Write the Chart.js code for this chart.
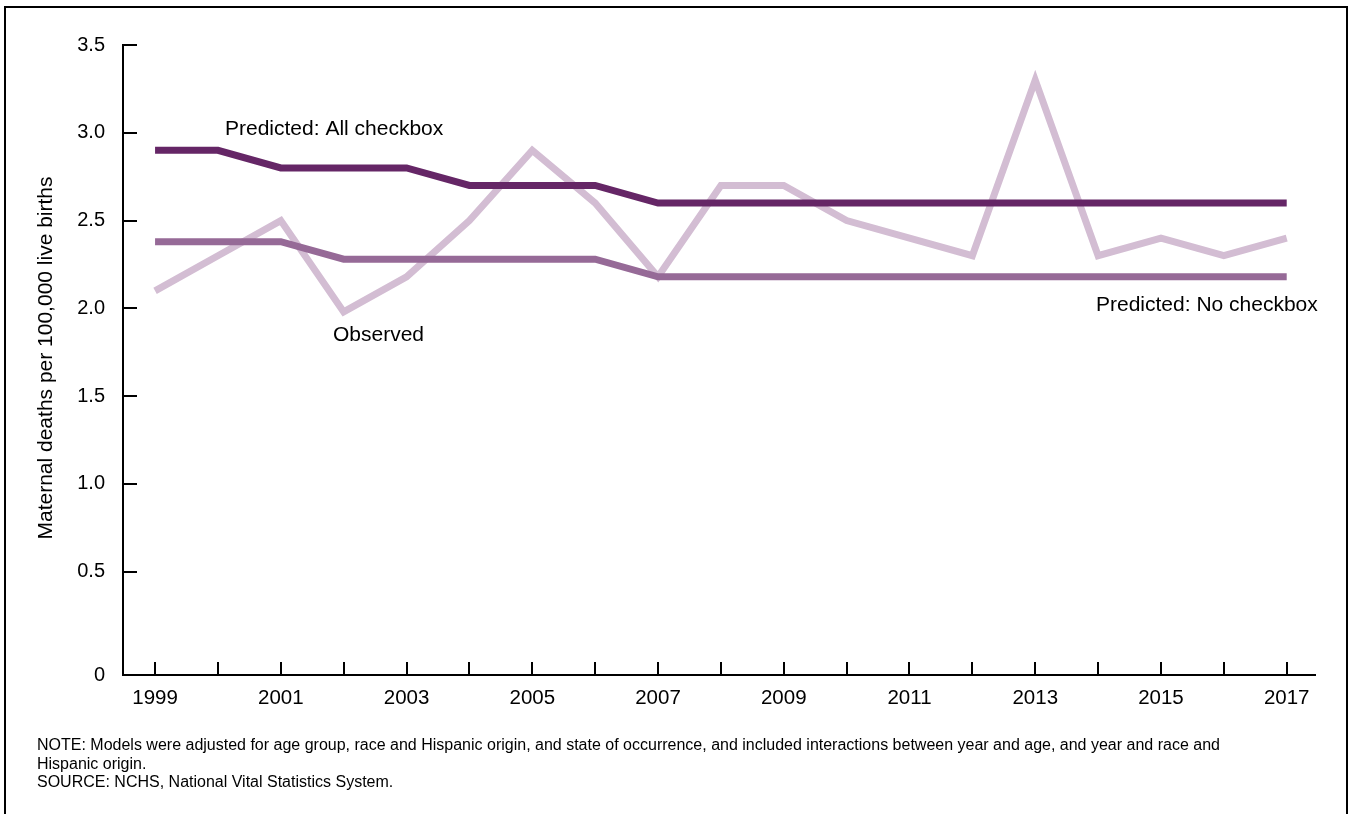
<!DOCTYPE html>
<html>
<head>
<meta charset="utf-8">
<title>Maternal deaths per 100,000 live births, 1999–2017</title>
<script src="https://cdn.jsdelivr.net/npm/chart.js@4/dist/chart.umd.min.js"></script>
<style>
  html, body { margin: 0; padding: 0; background: #ffffff; }
  canvas { display: block; }
</style>
</head>
<body>
<canvas id="chart" width="1350" height="814"></canvas>
<script>
// Years on the horizontal axis
const years = [1999, 2000, 2001, 2002, 2003, 2004, 2005, 2006, 2007, 2008, 2009, 2010, 2011, 2012, 2013, 2014, 2015, 2016, 2017];

// Maternal death rates per 100,000 live births
const observed      = [2.1, 2.3, 2.5, 1.98, 2.18, 2.5, 2.9, 2.6, 2.18, 2.7, 2.7, 2.5, 2.4, 2.3, 3.3, 2.3, 2.4, 2.3, 2.4];
const predictedAll  = [2.9, 2.9, 2.8, 2.8, 2.8, 2.7, 2.7, 2.7, 2.6, 2.6, 2.6, 2.6, 2.6, 2.6, 2.6, 2.6, 2.6, 2.6, 2.6];
const predictedNone = [2.38, 2.38, 2.38, 2.28, 2.28, 2.28, 2.28, 2.28, 2.18, 2.18, 2.18, 2.18, 2.18, 2.18, 2.18, 2.18, 2.18, 2.18, 2.18];

// Value axis ticks; the bottom of the axis is labelled 0
const yTickValues = [0.5, 1.0, 1.5, 2.0, 2.5, 3.0, 3.5];
const yMin = -0.088;
const yMax = 3.5;

// Years that carry a label
const labeledYears = [1999, 2001, 2003, 2005, 2007, 2009, 2011, 2013, 2015, 2017];

const footnotes = [
  'NOTE: Models were adjusted for age group, race and Hispanic origin, and state of occurrence, and included interactions between year and age, and year and race and',
  'Hispanic origin.',
  'SOURCE: NCHS, National Vital Statistics System.'
];

const FONT = '"Liberation Sans", Arial, Helvetica, sans-serif';

const toPoints = arr => arr.map((v, i) => ({ x: years[i], y: v }));

// Inward tick marks, series labels, axis title, notes and the outer frame
const decorations = {
  id: 'decorations',
  afterDraw(chart) {
    const ctx = chart.ctx;
    const xs = chart.scales.x;
    const ys = chart.scales.y;
    const area = chart.chartArea;
    ctx.save();

    // tick marks pointing into the plot
    ctx.strokeStyle = '#000000';
    ctx.lineWidth = 2;
    ctx.beginPath();
    years.forEach(yr => {
      const px = Math.round(xs.getPixelForValue(yr));
      ctx.moveTo(px, area.bottom);
      ctx.lineTo(px, area.bottom - 13);
    });
    yTickValues.forEach(v => {
      const py = Math.round(ys.getPixelForValue(v));
      ctx.moveTo(area.left, py);
      ctx.lineTo(area.left + 14, py);
    });
    ctx.stroke();

    // series labels
    ctx.fillStyle = '#000000';
    ctx.font = '21px ' + FONT;
    ctx.textBaseline = 'middle';
    ctx.textAlign = 'left';
    ctx.fillText('Predicted: All checkbox', 225, 129);
    ctx.fillText('Observed', 333, 335);
    ctx.fillText('Predicted: No checkbox', 1096, 305);

    // axis title
    ctx.save();
    ctx.translate(46, 358);
    ctx.rotate(-Math.PI / 2);
    ctx.textAlign = 'center';
    ctx.font = '21px ' + FONT;
    ctx.fillText('Maternal deaths per 100,000 live births', 0, 0);
    ctx.restore();

    // notes
    ctx.font = '16px ' + FONT;
    ctx.textAlign = 'left';
    footnotes.forEach((t, i) => ctx.fillText(t, 37, 746 + i * 18.5));

    // frame
    ctx.lineWidth = 2;
    ctx.beginPath();
    ctx.moveTo(5, 814);
    ctx.lineTo(5, 7);
    ctx.lineTo(1347, 7);
    ctx.lineTo(1347, 814);
    ctx.stroke();

    ctx.restore();
  }
};

const lineStyle = {
  borderWidth: 7,
  pointRadius: 0,
  pointHoverRadius: 0,
  tension: 0,
  fill: false,
  borderJoinStyle: 'miter',
  borderCapStyle: 'butt'
};

new Chart(document.getElementById('chart'), {
  type: 'line',
  data: {
    datasets: [
      Object.assign({ label: 'Predicted: No checkbox', data: toPoints(predictedNone), borderColor: '#966a97' }, lineStyle),
      Object.assign({ label: 'Predicted: All checkbox', data: toPoints(predictedAll), borderColor: '#652666' }, lineStyle),
      Object.assign({ label: 'Observed', data: toPoints(observed), borderColor: '#d3bdd3' }, lineStyle)
    ]
  },
  options: {
    responsive: false,
    animation: false,
    devicePixelRatio: 1,
    layout: { padding: { left: 0, top: 45, right: 35, bottom: 0 } },
    plugins: {
      legend: { display: false },
      tooltip: { enabled: false },
      title: { display: false }
    },
    scales: {
      x: {
        type: 'linear',
        min: 1998.49,
        max: 2017.45,
        grid: { display: false, drawTicks: false },
        border: { display: true, color: '#000000', width: 2 },
        afterBuildTicks: s => { s.ticks = years.map(v => ({ value: v })); },
        afterFit: s => { s.height = 139; },
        ticks: {
          autoSkip: false,
          maxRotation: 0,
          padding: 11,
          color: '#000000',
          font: { family: FONT, size: 20.5 },
          callback: v => labeledYears.includes(v) ? String(v) : ''
        }
      },
      y: {
        type: 'linear',
        min: yMin,
        max: yMax,
        grid: { display: false, drawTicks: false },
        border: { display: true, color: '#000000', width: 2 },
        afterBuildTicks: s => { s.ticks = [{ value: yMin }].concat(yTickValues.map(v => ({ value: v }))); },
        afterFit: s => { s.width = 123; },
        ticks: {
          autoSkip: false,
          padding: 18,
          color: '#000000',
          font: { family: FONT, size: 20 },
          callback: v => v === yMin ? '0' : v.toFixed(1)
        }
      }
    }
  },
  plugins: [decorations]
});
</script>
</body>
</html>
